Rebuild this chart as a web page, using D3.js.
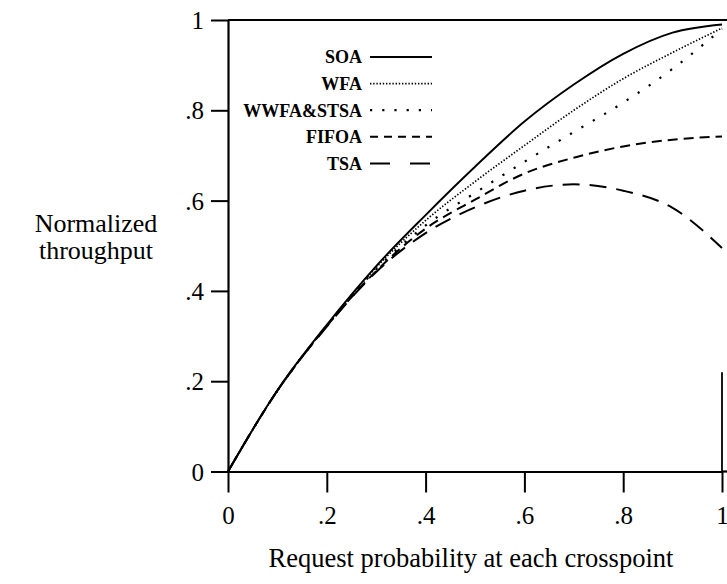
<!DOCTYPE html>
<html><head><meta charset="utf-8">
<script src="https://cdn.jsdelivr.net/npm/d3@7"></script>
<style>
html,body{margin:0;padding:0;background:#fff;}
svg{display:block;font-family:"Liberation Serif","Times New Roman",serif;}
</style></head>
<body>
<svg id="c" width="727" height="584"></svg>
<script>
// ---- data ----
const xValues = [0, 0.1, 0.2, 0.3, 0.4, 0.5, 0.6, 0.7, 0.8, 0.9, 1.0];
const soa   = [0, 0.180, 0.325, 0.455, 0.568, 0.675, 0.775, 0.857, 0.925, 0.972, 0.99];
const wfa   = [0, 0.179, 0.324, 0.452, 0.556, 0.642, 0.722, 0.800, 0.870, 0.928, 0.982];
const wwfa  = [0, 0.179, 0.323, 0.448, 0.545, 0.617, 0.686, 0.752, 0.817, 0.892, 0.980];
const fifoa = [0, 0.179, 0.322, 0.444, 0.538, 0.602, 0.660, 0.695, 0.720, 0.735, 0.742];
const tsa   = [0, 0.179, 0.321, 0.442, 0.528, 0.585, 0.622, 0.636, 0.622, 0.584, 0.495];
const seriesNames = ["SOA", "WFA", "WWFA&STSA", "FIFOA", "TSA"];
const tickValues = [0, 0.2, 0.4, 0.6, 0.8, 1];
const tickLabels = ["0", ".2", ".4", ".6", ".8", "1"];
const xTitle = "Request probability at each crosspoint";
const yTitle = ["Normalized", "throughput"];

// ---- layout ----
const svg = d3.select("#c");
const x = d3.scaleLinear().domain([0, 1]).range([228, 722]);
const y = d3.scaleLinear().domain([0, 1]).range([471.5, 20]);
const fmt = d => tickLabels[tickValues.indexOf(d)];
const FONT = "'Liberation Serif','Times New Roman',serif";

const styles = [
  {dash: null, legendDash: null, w: 1.9},
  {dash: "1.4,1.8", legendDash: "1.4,1.8", w: 1.7},
  {dash: "2.2,11", legendDash: "2.2,10", w: 2.2},
  {dash: "10,6", legendDash: "8,6", w: 2},
  {dash: "17,10", legendDash: "20,20", w: 2}
];
const allSeries = [soa, wfa, wwfa, fifoa, tsa];

// axes
const yAxis = d3.axisLeft(y).tickValues(tickValues).tickFormat(fmt)
  .tickSize(17).tickSizeOuter(0).tickPadding(7);
const gy = svg.append("g").attr("transform", `translate(${x(0)},0)`).call(yAxis);
gy.selectAll("text").attr("font-size", 25).attr("fill", "#000")
  .attr("font-family", FONT).attr("dy", "0.34em");
gy.selectAll("line").attr("stroke", "#000").attr("stroke-width", 2);
gy.select(".domain").attr("stroke", "#000").attr("stroke-width", 2.2);

const xAxis = d3.axisBottom(x).tickValues(tickValues).tickFormat(fmt)
  .tickSize(21).tickSizeOuter(0).tickPadding(14);
const gx = svg.append("g").attr("transform", `translate(0,${y(0)})`).call(xAxis);
gx.selectAll("text").attr("font-size", 25).attr("fill", "#000")
  .attr("font-family", FONT);
gx.selectAll("line").attr("stroke", "#000").attr("stroke-width", 2);
gx.select(".domain").attr("stroke", "#000").attr("stroke-width", 2.2);

// frame pieces
svg.append("line").attr("x1", x(0)).attr("x2", 727).attr("y1", y(1)).attr("y2", y(1))
  .attr("stroke", "#000").attr("stroke-width", 2.2);
svg.append("line").attr("x1", x(1)).attr("x2", 727).attr("y1", y(0)).attr("y2", y(0))
  .attr("stroke", "#000").attr("stroke-width", 2.2);
svg.append("line").attr("x1", x(1)).attr("x2", x(1)).attr("y1", y(0.22)).attr("y2", y(0))
  .attr("stroke", "#000").attr("stroke-width", 1.8);

// curves
const line = d3.line().x((d, i) => x(xValues[i])).y(d => y(d)).curve(d3.curveMonotoneX);
allSeries.forEach((s, i) => {
  svg.append("path").datum(s).attr("d", line)
    .attr("fill", "none").attr("stroke", "#000")
    .attr("stroke-width", styles[i].w)
    .attr("stroke-dasharray", styles[i].dash);
});

// legend
const lg = svg.append("g");
seriesNames.forEach((n, i) => {
  const cy = 57 + i * 26.6;
  lg.append("text").attr("x", 362).attr("y", cy).attr("dy", "0.35em")
    .attr("text-anchor", "end").attr("font-size", 18).attr("font-weight", "bold")
    .attr("font-family", FONT).text(n);
  lg.append("line").attr("x1", 370).attr("x2", 432).attr("y1", cy).attr("y2", cy)
    .attr("stroke", "#000").attr("stroke-width", styles[i].w)
    .attr("stroke-dasharray", styles[i].legendDash);
});

// titles
svg.append("text").attr("x", 471).attr("y", 567).attr("text-anchor", "middle")
  .attr("font-size", 26.5).attr("font-family", FONT).text(xTitle);
yTitle.forEach((t, i) => {
  svg.append("text").attr("x", 96).attr("y", 232 + i * 27).attr("text-anchor", "middle")
    .attr("font-size", 26).attr("font-family", FONT).text(t);
});
</script>
</body></html>
